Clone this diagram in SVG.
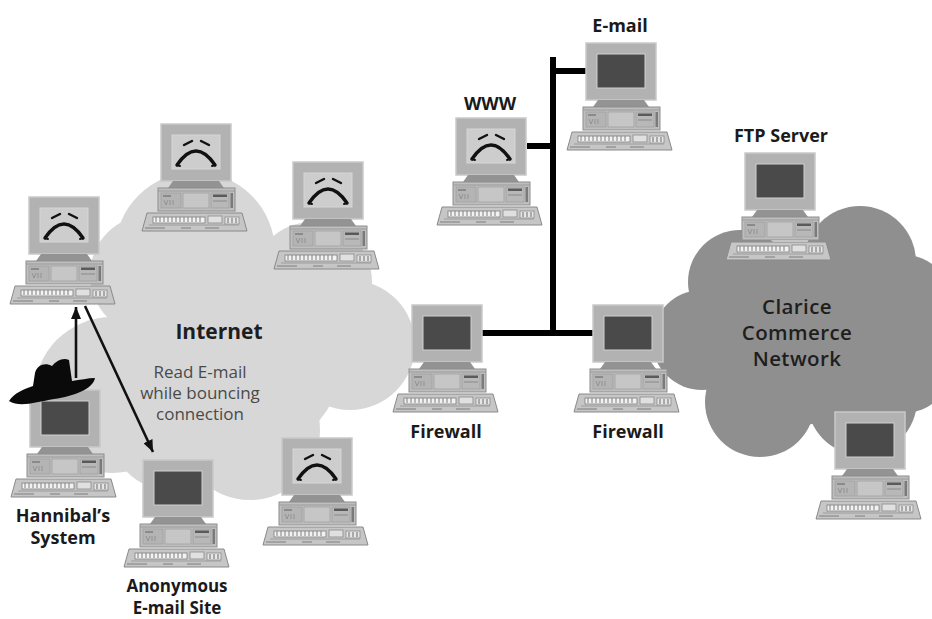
<svg xmlns="http://www.w3.org/2000/svg" xmlns:xlink="http://www.w3.org/1999/xlink" width="932" height="619" viewBox="0 0 932 619">
  <style>
    .lbl { font-family: "Open Sans", "Liberation Sans", sans-serif; font-weight: 700; font-size: 18px; fill: #1a1a1a; text-anchor: middle; }
    .big { font-family: "Open Sans", "Liberation Sans", sans-serif; font-weight: 600; font-size: 20.5px; letter-spacing: 0.4px; fill: #1e1e1e; text-anchor: middle; }
    .note { font-family: "Open Sans", "Liberation Sans", sans-serif; font-weight: 400; font-size: 17px; fill: #4a4a4a; text-anchor: middle; }
    .bus { stroke: #000; stroke-width: 6; fill: none; }
    .arrow { stroke: #111; stroke-width: 2.6; fill: none; marker-end: url(#head); }
    .face { stroke: #111; fill: none; stroke-linecap: round; }
  </style>
  <defs>
    <marker id="head" viewBox="0 0 12 10" refX="12" refY="5" markerWidth="12" markerHeight="10" markerUnits="userSpaceOnUse" orient="auto">
      <path d="M0,0 L12,5 L0,10 Z" fill="#111"/>
    </marker>
    <!-- desktop computer: monitor, system unit and keyboard; origin at the monitor's top-left -->
    <g id="pc">
      <rect x="0" y="0" width="70" height="57" fill="#b2b2b2" stroke="#c9c9c9" stroke-width="1.5"/>
      <path d="M12,57 H58 L63,64 H7 Z" fill="#939393"/>
      <rect x="-3" y="64" width="77" height="23" fill="#bebebe" stroke="#8e8e8e" stroke-width="1"/>
      <line x1="-3" y1="67" x2="74" y2="67" stroke="#9a9a9a" stroke-width="1"/>
      <rect x="0" y="69" width="20" height="15" fill="#b4b4b4" stroke="#a0a0a0" stroke-width="0.8"/>
      <rect x="22" y="69" width="26" height="15" fill="#c6c6c6" stroke="#a0a0a0" stroke-width="0.8"/>
      <rect x="50" y="69" width="18" height="15" fill="#b8b8b8" stroke="#a0a0a0" stroke-width="0.8"/>
      <rect x="52" y="70.5" width="14" height="2.5" fill="#5a5a5a"/>
      <line x1="52" y1="77" x2="66" y2="77" stroke="#8a8a8a" stroke-width="1"/>
      <rect x="69.5" y="69" width="2.5" height="15" fill="#7a7a7a"/>
      <path d="M3,76 l2,5 l2,-5 M9,76 v5 M12,76 v5" stroke="#8a8a8a" stroke-width="0.8" fill="none"/>
      <rect x="2" y="71" width="8" height="2" fill="#8a8a8a"/>
      <path d="M-14,89 H81 L86,107 H-19 Z" fill="#c6c6c6" stroke="#8a8a8a" stroke-width="1"/>
      <rect x="-8" y="93" width="52" height="6" fill="#f2f2f2" stroke="#7e7e7e" stroke-width="0.8"/>
      <path d="M-5,93 v5 M-1,93 v5 M3,93 v5 M7,93 v5 M11,93 v5 M15,93 v5 M19,93 v5 M23,93 v5 M27,93 v5 M31,93 v5 M35,93 v5 M39,93 v5" stroke="#7e7e7e" stroke-width="1"/>
      <rect x="47" y="92" width="14" height="7" fill="#e0e0e0" stroke="#8a8a8a" stroke-width="0.8"/>
      <rect x="64" y="93" width="14" height="7" fill="#e6e6e6" stroke="#8a8a8a" stroke-width="0.8"/>
      <path d="M67,94 v5 M71,94 v5 M75,94 v5" stroke="#6a6a6a" stroke-width="1"/>
      <path d="M-12,101 H78" stroke="#9c9c9c" stroke-width="1"/>
      <path d="M-16,104 H4 M20,104 H30 M44,104 H58" stroke="#7e7e7e" stroke-width="1"/>
    </g>
    <!-- screens -->
    <rect id="dark" x="11" y="11" width="48" height="34" fill="#4a4a4a" stroke="#cfcfcf" stroke-width="1"/>
    <g id="sad">
      <rect x="11" y="11" width="48" height="34" fill="#cdcdcd" stroke="#d6d6d6" stroke-width="1"/>
      <path class="face" stroke-width="2.4" d="M23,21 L31,17 M40,17 L48,21"/>
      <path class="face" stroke-width="3.4" d="M16,41 Q35,13 54,41"/>
      <path class="face" stroke-width="2" d="M16,41 l3,1 M54,41 l-3,1"/>
    </g>
  </defs>

  <rect width="932" height="619" fill="#fff"/>

  <!-- clouds -->
  <g id="internet-cloud" fill="#d7d7d7">
    <circle cx="195" cy="252" r="80"/>
    <circle cx="150" cy="275" r="60"/>
    <circle cx="312" cy="282" r="60"/>
    <circle cx="350" cy="345" r="65"/>
    <circle cx="250" cy="430" r="70"/>
    <circle cx="112" cy="395" r="78"/>
    <circle cx="170" cy="430" r="60"/>
    <circle cx="235" cy="350" r="110"/>
  </g>
  <g id="clarice-cloud" fill="#8f8f8f">
    <circle cx="860" cy="262" r="56"/>
    <circle cx="740" cy="282" r="52"/>
    <circle cx="702" cy="340" r="50"/>
    <circle cx="760" cy="402" r="55"/>
    <circle cx="862" cy="400" r="55"/>
    <circle cx="905" cy="300" r="45"/>
    <circle cx="905" cy="368" r="45"/>
    <circle cx="800" cy="335" r="90"/>
  </g>

  <!-- connectors -->
  <g id="connectors">
    <path class="bus" d="M482,333 H593"/>
    <path class="bus" d="M553,57 V333"/>
    <path class="bus" d="M553,71 H586"/>
    <path class="bus" d="M527,146 H553"/>
    <path class="arrow" d="M76,378 V307"/>
    <path class="arrow" d="M85,306 L153,452"/>
  </g>

  <!-- nodes -->
  <g id="relay-1">
    <use xlink:href="#pc" x="29" y="197"/>
    <use xlink:href="#sad" x="29" y="197"/>
  </g>
  <g id="relay-2">
    <use xlink:href="#pc" x="161" y="124"/>
    <use xlink:href="#sad" x="161" y="124"/>
  </g>
  <g id="relay-3">
    <use xlink:href="#pc" x="293" y="162"/>
    <use xlink:href="#sad" x="293" y="162"/>
  </g>
  <g id="relay-4">
    <use xlink:href="#pc" x="282" y="438"/>
    <use xlink:href="#sad" x="282" y="438"/>
  </g>
  <g id="hannibal">
    <use xlink:href="#pc" x="30" y="390"/>
    <use xlink:href="#dark" x="30" y="390"/>
    <path d="M9,401 C14,393 24,389 33,386 L35,373 C37,365 45,362 52,366 C56,361 63,357 69,360 L72,381 C80,380 88,378 95,378 C93,389 74,396 54,399 C36,402 20,408 9,401 Z" fill="#0a0a0a"/>
    <text class="lbl" x="63" y="522">Hannibal’s</text>
    <text class="lbl" x="63" y="544">System</text>
  </g>
  <g id="anonymous">
    <use xlink:href="#pc" x="143" y="460"/>
    <use xlink:href="#dark" x="143" y="460"/>
    <text class="lbl" x="177" y="592" style="font-size:17px">Anonymous</text>
    <text class="lbl" x="177" y="614" style="font-size:17px">E-mail Site</text>
  </g>
  <g id="firewall-left">
    <use xlink:href="#pc" x="412" y="305"/>
    <use xlink:href="#dark" x="412" y="305"/>
    <text class="lbl" x="446" y="438">Firewall</text>
  </g>
  <g id="firewall-right">
    <use xlink:href="#pc" x="593" y="305"/>
    <use xlink:href="#dark" x="593" y="305"/>
    <text class="lbl" x="628" y="438">Firewall</text>
  </g>
  <g id="www">
    <use xlink:href="#pc" x="456" y="118"/>
    <use xlink:href="#sad" x="456" y="118"/>
    <text class="lbl" x="490" y="110">WWW</text>
  </g>
  <g id="email">
    <use xlink:href="#pc" x="586" y="43"/>
    <use xlink:href="#dark" x="586" y="43"/>
    <text class="lbl" x="620" y="32">E-mail</text>
  </g>
  <g id="ftp">
    <use xlink:href="#pc" x="745" y="153"/>
    <use xlink:href="#dark" x="745" y="153"/>
    <text class="lbl" x="781" y="142">FTP Server</text>
  </g>
  <g id="clarice-host">
    <use xlink:href="#pc" x="835" y="412"/>
    <use xlink:href="#dark" x="835" y="412"/>
  </g>

  <!-- cloud labels -->
  <g id="internet-label">
    <text class="big" x="219" y="339" style="font-weight:700;font-size:21px;letter-spacing:0">Internet</text>
    <text class="note" x="200" y="378">Read E-mail</text>
    <text class="note" x="200" y="399">while bouncing</text>
    <text class="note" x="200" y="420">connection</text>
  </g>
  <g id="clarice-label">
    <text class="big" x="797" y="314">Clarice</text>
    <text class="big" x="797" y="340">Commerce</text>
    <text class="big" x="797" y="366">Network</text>
  </g>
</svg>
